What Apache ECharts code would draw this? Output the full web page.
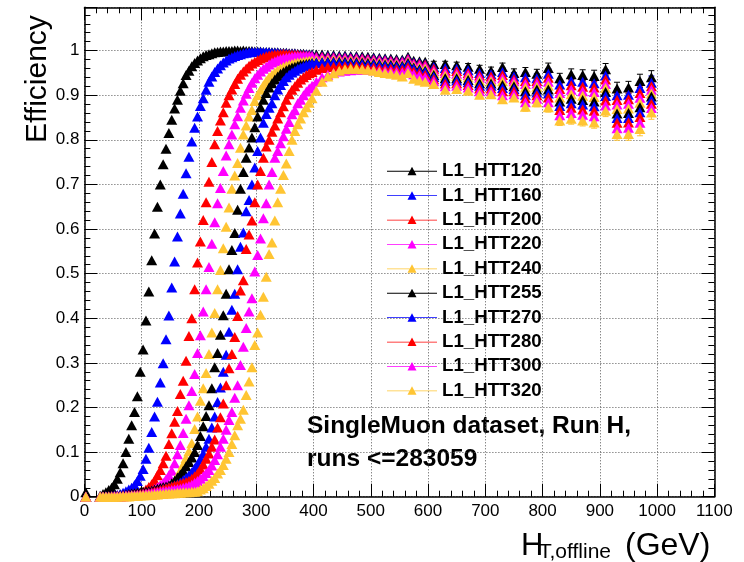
<!DOCTYPE html>
<html>
<head>
<meta charset="utf-8">
<script src="https://cdn.jsdelivr.net/npm/echarts@6/dist/echarts.min.js"></script>
<style>
html, body { margin: 0; padding: 0; background: #fff; }
#chart { width: 744px; height: 562px; }
</style>
</head>
<body>
<div id="chart"></div>
<script>
// bin centres (GeV): 5 GeV bins below 400, 10 GeV to 600, 20 GeV to 1000
var htBins = [
  2.5, 7.5, 12.5, 17.5, 22.5, 27.5, 32.5, 37.5, 42.5, 47.5,
  52.5, 57.5, 62.5, 67.5, 72.5, 77.5, 82.5, 87.5, 92.5, 97.5,
  102.5, 107.5, 112.5, 117.5, 122.5, 127.5, 132.5, 137.5, 142.5, 147.5,
  152.5, 157.5, 162.5, 167.5, 172.5, 177.5, 182.5, 187.5, 192.5, 197.5,
  202.5, 207.5, 212.5, 217.5, 222.5, 227.5, 232.5, 237.5, 242.5, 247.5,
  252.5, 257.5, 262.5, 267.5, 272.5, 277.5, 282.5, 287.5, 292.5, 297.5,
  302.5, 307.5, 312.5, 317.5, 322.5, 327.5, 332.5, 337.5, 342.5, 347.5,
  352.5, 357.5, 362.5, 367.5, 372.5, 377.5, 382.5, 387.5, 392.5, 397.5,
  405, 415, 425, 435, 445, 455, 465, 475, 485, 495,
  505, 515, 525, 535, 545, 555, 565, 575, 585, 595,
  610, 630, 650, 670, 690, 710, 730, 750, 770, 790,
  810, 830, 850, 870, 890, 910, 930, 950, 970, 990
];
// rough size of the vertical error bars in the wide (20 GeV) bins
var errWideBins = [
  .006, .006, .007, .007, .008, .008, .009, .009, .010, .010,
  .011, .011, .012, .012, .013, .013, .014, .014, .015, .015
];

var effHTT120 = [
  .01, null, null, null, null, .002, .006, .010, .015, .020,
  .028, .040, .055, .075, .100, .130, .160, .190, .225, .280,
  .330, .395, .460, .530, .590, .650, .700, .745, .780, .815,
  .845, .870, .890, .910, .927, .945, .955, .965, .972, .978,
  .983, .987, .990, .992, .994, .996, .997, .998, .998, .999,
  .999, .999, 1.0, 1.0, .999, 1.0, .999, .999, .999, .998,
  .998, .998, .997, .997, .997, .996, .996, .996, .995, .995,
  .995, .994, .994, .994, .993, .993, .993, .992, .992, .992,
  .991, .991, .990, .990, .989, .989, .988, .988, .987, .986,
  .985, .984, .983, .982, .981, .980, .986, .977, .976, .975,
  .970, .970, .967, .964, .959, .955, .963, .950, .952, .948,
  .961, .938, .947, .945, .943, .958, .915, .917, .932, .940
];
var effHTT160 = [
  0, null, null, null, null, 0, 0, .001, .001, .002,
  .003, .004, .006, .009, .012, .016, .020, .026, .035, .047,
  .062, .085, .110, .145, .180, .213, .256, .299, .353, .406,
  .469, .527, .583, .635, .679, .725, .762, .796, .827, .852,
  .876, .893, .912, .930, .942, .952, .960, .967, .973, .978,
  .982, .985, .988, .990, .992, .994, .995, .996, .997, .997,
  .997, .997, .996, .996, .996, .995, .995, .995, .994, .994,
  .994, .993, .993, .993, .992, .992, .991, .991, .990, .990,
  .988, .988, .987, .987, .986, .986, .985, .985, .984, .983,
  .982, .981, .980, .979, .978, .977, .983, .973, .972, .970,
  .963, .961, .959, .956, .950, .947, .952, .942, .940, .938,
  .948, .924, .932, .930, .927, .944, .900, .901, .916, .928
];
var effHTT200 = [
  0, null, null, null, null, 0, 0, 0, .001, .001,
  .001, .002, .002, .003, .004, .005, .006, .007, .008, .009,
  .011, .016, .022, .028, .037, .048, .060, .075, .092, .118,
  .142, .168, .192, .230, .260, .305, .360, .400, .465, .525,
  .572, .620, .660, .706, .750, .790, .820, .843, .862, .883,
  .900, .913, .925, .937, .946, .953, .960, .966, .971, .975,
  .979, .982, .985, .987, .989, .990, .991, .992, .992, .993,
  .992, .992, .991, .991, .991, .990, .990, .989, .989, .988,
  .986, .986, .985, .985, .984, .984, .983, .983, .982, .981,
  .980, .979, .978, .977, .976, .975, .981, .971, .970, .968,
  .959, .955, .954, .950, .944, .942, .945, .936, .932, .932,
  .939, .914, .922, .919, .917, .935, .889, .891, .905, .920
];
var effHTT220 = [
  0, null, null, null, null, 0, 0, 0, 0, 0,
  .001, .001, .001, .002, .002, .003, .003, .004, .005, .006,
  .007, .009, .011, .014, .017, .021, .026, .031, .039, .048,
  .058, .075, .095, .116, .143, .175, .205, .237, .275, .322,
  .362, .415, .465, .515, .567, .615, .658, .692, .730, .765,
  .790, .812, .835, .853, .872, .888, .903, .916, .928, .938,
  .946, .953, .959, .964, .969, .973, .976, .979, .981, .983,
  .984, .985, .986, .987, .987, .988, .988, .988, .988, .987,
  .984, .984, .983, .983, .982, .982, .981, .981, .980, .979,
  .978, .977, .976, .975, .974, .973, .979, .969, .967, .965,
  .954, .950, .948, .945, .939, .936, .938, .931, .925, .926,
  .930, .905, .912, .909, .907, .925, .879, .881, .894, .912
];
var effHTT240 = [
  0, null, null, null, null, 0, 0, 0, 0, 0,
  0, 0, .001, .001, .001, .001, .002, .002, .003, .003,
  .004, .005, .006, .007, .009, .011, .013, .015, .018, .023,
  .028, .035, .045, .058, .072, .087, .102, .120, .152, .180,
  .215, .243, .277, .320, .368, .412, .465, .508, .557, .605,
  .648, .690, .720, .748, .782, .812, .832, .852, .867, .887,
  .900, .912, .922, .932, .940, .946, .951, .956, .960, .963,
  .966, .968, .970, .972, .973, .974, .975, .976, .977, .977,
  .978, .979, .979, .979, .979, .978, .978, .977, .976, .975,
  .974, .973, .972, .971, .970, .969, .975, .965, .962, .960,
  .950, .944, .943, .940, .933, .931, .931, .925, .917, .919,
  .921, .895, .902, .899, .896, .916, .869, .870, .883, .904
];
var effHTT255 = [
  0, null, null, null, null, 0, 0, 0, .001, .001,
  .002, .002, .003, .004, .005, .006, .007, .008, .009, .010,
  .011, .012, .013, .014, .016, .018, .020, .022, .023, .025,
  .030, .036, .043, .050, .058, .068, .078, .088, .100, .116,
  .136, .158, .181, .205, .243, .290, .322, .363, .407, .455,
  .510, .553, .591, .643, .690, .728, .760, .783, .805, .828,
  .852, .873, .890, .905, .917, .927, .935, .942, .948, .952,
  .956, .959, .962, .964, .966, .968, .969, .970, .971, .972,
  .973, .974, .975, .975, .975, .975, .974, .974, .973, .972,
  .971, .970, .969, .968, .967, .966, .972, .962, .958, .955,
  .945, .938, .938, .934, .927, .926, .923, .920, .909, .913,
  .913, .886, .892, .889, .886, .907, .859, .860, .873, .897
];
var effHTT270 = [
  0, null, null, null, null, 0, 0, 0, 0, .001,
  .001, .001, .002, .002, .003, .003, .004, .004, .005, .006,
  .007, .008, .009, .010, .011, .013, .015, .017, .019, .021,
  .023, .025, .028, .032, .037, .042, .048, .055, .064, .073,
  .084, .096, .112, .130, .155, .180, .212, .245, .280, .318,
  .370, .419, .455, .510, .560, .592, .640, .665, .700, .738,
  .775, .805, .838, .858, .872, .882, .900, .913, .923, .932,
  .940, .946, .951, .955, .959, .962, .965, .967, .969, .971,
  .972, .973, .973, .973, .972, .972, .971, .971, .970, .969,
  .968, .967, .966, .965, .964, .963, .969, .959, .955, .952,
  .941, .932, .933, .929, .921, .921, .916, .914, .901, .906,
  .904, .876, .882, .879, .875, .898, .849, .849, .862, .889
];
var effHTT280 = [
  0, null, null, null, null, 0, 0, 0, 0, .001,
  .001, .001, .001, .002, .002, .003, .003, .004, .005, .006,
  .007, .008, .009, .010, .012, .013, .015, .017, .019, .021,
  .023, .025, .027, .029, .031, .033, .036, .040, .046, .052,
  .062, .072, .085, .097, .112, .128, .155, .178, .209, .250,
  .288, .320, .358, .405, .462, .485, .555, .588, .619, .660,
  .700, .730, .760, .785, .800, .818, .832, .848, .862, .875,
  .890, .902, .912, .920, .928, .935, .940, .945, .949, .952,
  .957, .961, .963, .964, .965, .965, .965, .965, .964, .963,
  .962, .961, .960, .959, .958, .957, .963, .953, .950, .946,
  .936, .926, .927, .923, .915, .915, .909, .909, .893, .900,
  .895, .867, .872, .868, .865, .888, .838, .839, .851, .881
];
var effHTT300 = [
  0, null, null, null, null, 0, 0, 0, 0, 0,
  .001, .001, .001, .001, .002, .002, .003, .003, .004, .004,
  .005, .006, .007, .008, .009, .010, .011, .012, .013, .014,
  .015, .016, .017, .018, .020, .022, .024, .027, .031, .035,
  .040, .046, .053, .060, .070, .082, .095, .112, .130, .150,
  .172, .190, .222, .250, .295, .336, .378, .415, .445, .505,
  .542, .579, .624, .658, .700, .728, .760, .775, .792, .808,
  .825, .840, .857, .866, .882, .890, .900, .908, .915, .921,
  .930, .940, .946, .950, .953, .955, .956, .957, .957, .957,
  .956, .955, .954, .953, .952, .951, .957, .947, .944, .940,
  .931, .920, .921, .917, .909, .909, .900, .902, .884, .892,
  .884, .855, .860, .856, .853, .877, .826, .827, .838, .871
];
var effHTT320 = [
  0, null, null, null, null, 0, 0, 0, 0, 0,
  0, 0, .001, .001, .001, .001, .002, .002, .002, .003,
  .003, .003, .004, .004, .005, .005, .006, .006, .007, .007,
  .008, .008, .009, .009, .010, .010, .010, .011, .011, .012,
  .016, .019, .024, .029, .036, .042, .052, .060, .071, .085,
  .100, .118, .138, .160, .175, .195, .228, .258, .290, .340,
  .368, .408, .448, .493, .544, .570, .619, .660, .690, .721,
  .747, .775, .800, .820, .835, .848, .862, .873, .883, .893,
  .910, .930, .942, .949, .955, .958, .959, .959, .958, .957,
  .955, .952, .950, .948, .946, .942, .950, .937, .933, .930,
  .925, .912, .914, .910, .901, .902, .891, .895, .874, .884,
  .873, .843, .847, .843, .839, .865, .813, .813, .824, .861
];

var seriesNames = ['L1_HTT120', 'L1_HTT160', 'L1_HTT200', 'L1_HTT220', 'L1_HTT240',
  'L1_HTT255', 'L1_HTT270', 'L1_HTT280', 'L1_HTT300', 'L1_HTT320'];
var seriesEff = [effHTT120, effHTT160, effHTT200, effHTT220, effHTT240,
  effHTT255, effHTT270, effHTT280, effHTT300, effHTT320];
var seriesColors = ['#000000', '#0000ff', '#ff0000', '#ff00ff', '#ffc533',
  '#000000', '#0000ff', '#ff0000', '#ff00ff', '#ffc533'];

var font = 'Liberation Sans';
var legendIcon = 'path://M0,4.6h50v0.8h-50z M20.5,9L25,0.5L29.5,9z';
var firstWideBin = htBins.length - errWideBins.length;

// error bars (with caps) for the wide bins, drawn under the markers
function errorBarSeries(k) {
  var rows = [];
  for (var i = firstWideBin; i < htBins.length; i++) {
    var e = errWideBins[i - firstWideBin];
    rows.push([htBins[i], seriesEff[k][i] - e, seriesEff[k][i] + e]);
  }
  return {
    type: 'custom',
    silent: true,
    data: rows,
    encode: { x: 0, y: [1, 2] },
    renderItem: function (params, api) {
      var lo = api.coord([api.value(0), api.value(1)]);
      var hi = api.coord([api.value(0), api.value(2)]);
      var st = { stroke: seriesColors[k], lineWidth: 1 };
      return {
        type: 'group',
        children: [
          { type: 'line', shape: { x1: lo[0], y1: lo[1], x2: hi[0], y2: hi[1] }, style: st },
          { type: 'line', shape: { x1: hi[0] - 3, y1: hi[1], x2: hi[0] + 3, y2: hi[1] }, style: st },
          { type: 'line', shape: { x1: lo[0] - 3, y1: lo[1], x2: lo[0] + 3, y2: lo[1] }, style: st }
        ]
      };
    }
  };
}

var series = [];
seriesNames.forEach(function (name, k) {
  var pts = [];
  htBins.forEach(function (x, i) {
    if (seriesEff[k][i] !== null) pts.push([x, seriesEff[k][i]]);
  });
  series.push(errorBarSeries(k));
  series.push({
    name: name,
    type: 'scatter',
    symbol: 'triangle',
    symbolSize: [11, 10],
    itemStyle: { color: seriesColors[k], opacity: 1 },
    emphasis: { disabled: true },
    data: pts
  });
});

function frameAxis(extra) {
  var base = {
    type: 'value',
    axisLine: { show: true, onZero: false, lineStyle: { color: '#000', width: 1.5 } },
    axisTick: { show: true, inside: true, length: 13, lineStyle: { color: '#000', width: 1 } },
    minorTick: { show: true, splitNumber: 5, length: 6, lineStyle: { color: '#000', width: 1 } },
    axisLabel: { show: false },
    splitLine: { show: false }
  };
  for (var key in extra) base[key] = extra[key];
  return base;
}

var plainNumber = function (v) { return String(Math.round(v * 1000) / 1000); };

var chart = echarts.init(document.getElementById('chart'), null, { renderer: 'canvas' });
chart.setOption({
  animation: false,
  backgroundColor: '#fff',
  grid: { left: 84.4, right: 29.6, top: 7.3, bottom: 65.3, containLabel: false, outerBoundsMode: 'none' },
  xAxis: [
    frameAxis({
      min: 0, max: 1100, interval: 100, position: 'bottom',
      axisLabel: { show: true, margin: 6, fontSize: 17, color: '#000', fontFamily: font, formatter: plainNumber },
      splitLine: { show: true, lineStyle: { color: '#555', type: [1, 2], width: 1 } }
    }),
    frameAxis({ min: 0, max: 1100, interval: 100, position: 'top' })
  ],
  yAxis: [
    frameAxis({
      min: 0, max: 1.097, interval: 0.1, position: 'left',
      axisLabel: { show: true, margin: 5, fontSize: 17, color: '#000', fontFamily: font, showMaxLabel: false, formatter: plainNumber },
      splitLine: { show: true, lineStyle: { color: '#555', type: [1, 2], width: 1 } }
    }),
    frameAxis({ min: 0, max: 1.097, interval: 0.1, position: 'right' })
  ],
  legend: {
    orient: 'vertical',
    left: 382,
    top: 156.5,
    itemWidth: 50,
    itemHeight: 8.5,
    itemGap: 5.4,
    icon: legendIcon,
    selectedMode: false,
    textStyle: { fontSize: 18.7, fontWeight: 'bold', fontFamily: font, color: '#000', lineHeight: 19 },
    data: seriesNames
  },
  graphic: [
    { type: 'text', x: 53, y: 143, rotation: Math.PI / 2,
      style: { text: 'Efficiency', font: '30px ' + font, fill: '#000', align: 'left', verticalAlign: 'bottom' } },
    { type: 'text', x: 521, y: 546,
      style: { text: 'H', font: '31px ' + font, fill: '#000', align: 'left', verticalAlign: 'middle' } },
    { type: 'text', x: 539, y: 552,
      style: { text: 'T,offline', font: '21px ' + font, fill: '#000', align: 'left', verticalAlign: 'middle' } },
    { type: 'text', x: 625, y: 546,
      style: { text: '(GeV)', font: '32px ' + font, fill: '#000', align: 'left', verticalAlign: 'middle' } },
    { type: 'text', x: 307, y: 426,
      style: { text: 'SingleMuon dataset, Run H,', font: 'bold 24.5px ' + font, fill: '#000', align: 'left', verticalAlign: 'middle' } },
    { type: 'text', x: 307, y: 459,
      style: { text: 'runs <=283059', font: 'bold 24.5px ' + font, fill: '#000', align: 'left', verticalAlign: 'middle' } }
  ],
  series: series
});
</script>
</body>
</html>
